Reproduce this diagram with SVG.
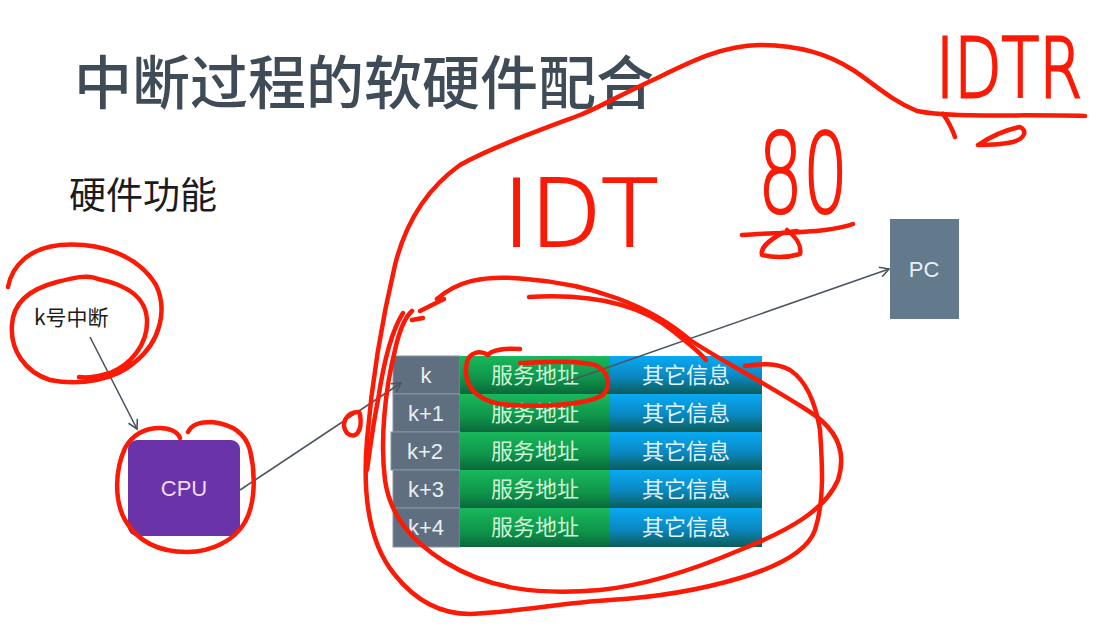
<svg xmlns="http://www.w3.org/2000/svg" width="1115" height="638" viewBox="0 0 1115 638">
<defs>
<linearGradient id="gGreen" x1="0" y1="0" x2="0" y2="1">
<stop offset="0" stop-color="#19b85c"/><stop offset="0.6" stop-color="#0f944a"/><stop offset="1" stop-color="#0a673b"/>
</linearGradient>
<linearGradient id="gBlue" x1="0" y1="0" x2="0" y2="1">
<stop offset="0" stop-color="#08aaf5"/><stop offset="0.55" stop-color="#0a87bf"/><stop offset="1" stop-color="#0b5d57"/>
</linearGradient>
<marker id="arr" markerWidth="12" markerHeight="12" refX="10" refY="6" orient="auto" markerUnits="userSpaceOnUse">
<path d="M1,1 L10,6 L1,11" fill="none" stroke="#4b5560" stroke-width="1.6"/>
</marker>
<style>
.cjk{font-family:"Noto Sans CJK SC","Noto Sans",sans-serif}
.lat{font-family:"Liberation Sans","Noto Sans CJK SC",sans-serif}
.cell1{fill:#5f6f80;stroke:#8795a3;stroke-width:1}
.cell2{fill:url(#gGreen)}
.cell3{fill:url(#gBlue)}
.t1{font-family:"Liberation Sans",sans-serif;font-size:22px;fill:#e9eef3;text-anchor:middle}
.t2{font-family:"Noto Sans CJK SC",sans-serif;font-size:22px;fill:#cdf5d6;text-anchor:middle}
.t3{font-family:"Noto Sans CJK SC",sans-serif;font-size:22px;fill:#e2f5ff;text-anchor:middle}
.conn{fill:none;stroke:#4b5560;stroke-width:1.6;marker-end:url(#arr)}
.ink{fill:none;stroke:#fa1a06;stroke-width:4.5;stroke-linecap:round;stroke-linejoin:round}
.hand{font-family:"DejaVu Sans",sans-serif;font-weight:200;fill:#fa1a06;stroke:#fa1a06;stroke-width:2.2}
</style>
</defs>
<rect width="1115" height="638" fill="#ffffff"/>

<g id="title">
<text x="74" y="104" class="cjk" font-size="58" font-weight="500" fill="#3f4b57">中断过程的软硬件配合</text>
</g>
<g id="subtitle">
<text x="69" y="209" class="cjk" font-size="37" fill="#1c1c1c">硬件功能</text>
</g>

<g id="node-interrupt">
<text x="34" y="325" class="cjk" font-size="21" fill="#1c1c1c">k号中断</text>
</g>

<g id="node-cpu">
<rect x="128" y="440" width="112" height="96" rx="9" fill="#6a33a8"/>
<text x="184" y="496" class="lat" font-size="22" fill="#f3d8f6" text-anchor="middle">CPU</text>
</g>

<g id="node-table">
<rect x="393" y="356" width="67" height="38" class="cell1"/>
<rect x="393" y="394" width="67" height="38" class="cell1"/>
<rect x="391" y="432" width="69" height="38" class="cell1"/>
<rect x="393" y="470" width="67" height="38" class="cell1"/>
<rect x="393" y="508" width="67" height="39" class="cell1"/>
<rect x="460" y="356" width="150" height="38" class="cell2"/>
<rect x="460" y="394" width="150" height="38" class="cell2"/>
<rect x="460" y="432" width="150" height="38" class="cell2"/>
<rect x="460" y="470" width="150" height="38" class="cell2"/>
<rect x="460" y="508" width="150" height="39" class="cell2"/>
<rect x="610" y="356" width="152" height="38" class="cell3"/>
<rect x="610" y="394" width="152" height="38" class="cell3"/>
<rect x="610" y="432" width="152" height="38" class="cell3"/>
<rect x="610" y="470" width="152" height="38" class="cell3"/>
<rect x="610" y="508" width="152" height="39" class="cell3"/>
<text x="426" y="383" class="t1">k</text>
<text x="426" y="421" class="t1">k+1</text>
<text x="425" y="459" class="t1">k+2</text>
<text x="426" y="497" class="t1">k+3</text>
<text x="426" y="535" class="t1">k+4</text>
<text x="535" y="383" class="t2">服务地址</text>
<text x="535" y="421" class="t2">服务地址</text>
<text x="535" y="459" class="t2">服务地址</text>
<text x="535" y="497" class="t2">服务地址</text>
<text x="535" y="535" class="t2">服务地址</text>
<text x="686" y="383" class="t3">其它信息</text>
<text x="686" y="421" class="t3">其它信息</text>
<text x="686" y="459" class="t3">其它信息</text>
<text x="686" y="497" class="t3">其它信息</text>
<text x="686" y="535" class="t3">其它信息</text>
</g>

<g id="node-pc">
<rect x="890" y="219" width="69" height="100" fill="#627a8c"/>
<text x="924" y="277" class="lat" font-size="22" fill="#e9f0f5" text-anchor="middle">PC</text>
</g>

<g id="connectors">
<path class="conn" d="M90,337 L137,429"/>
<path class="conn" d="M240,490 L401,383"/>
<path class="conn" d="M566,382 L889,269"/>
</g>

<g id="annotations">
<path class="ink" d="M1085,116 C1020,114 950,118 917,111 C890,100 872,82 853,70 C830,55 800,45 760,45 C720,46 690,62 653,80 C620,95 600,107 580,115 C540,130 490,148 460,165 C425,190 405,225 395,265 C382,320 372,380 367,440 C362,500 370,545 395,575 C415,600 440,614 470,614 C520,612 560,603 610,600 C660,597 700,590 740,578 C780,566 808,550 815,530 C825,500 822,460 820,430 C815,400 805,380 790,370 C775,362 760,364 745,366"/>
<path class="ink" d="M943,114 C948,121 952,128 955,137"/>
<path class="ink" d="M978,145 C990,137 1005,130 1020,127 C1027,130 1026,138 1013,142 C1000,145 988,145 978,145"/>
<path class="ink" d="M437,299 C455,283 480,274 526,279 C590,284 650,305 690,340 C720,360 760,380 807,410 C840,430 846,455 838,480 C825,510 790,530 740,550 C700,567 650,585 600,590 C540,595 490,590 445,562 C410,540 390,515 385,480 C380,440 385,390 395,350 C399,332 404,318 412,311"/>
<path class="ink" d="M529,297 C580,294 635,300 673,331 C688,343 700,352 706,360"/>
<path class="ink" d="M444,299 L420,311 M423,318 L412,320"/>
<path class="ink" d="M403,313 C392,330 384,360 378,400 C372,430 370,450 367,470"/>
<path class="ink" d="M359,412 C346,412 340,424 347,433 C355,440 363,432 360,414"/>
<path class="ink" d="M8,287 C12,265 30,248 60,245 C100,242 138,255 156,285 C168,310 160,342 135,362 C115,380 80,386 50,380 C25,372 10,350 12,325 C13,302 30,289 57,282 C72,278 88,274 98,279 C122,284 146,294 147,320 C148,345 130,365 110,373 C98,377 87,378 79,377"/>
<path class="ink" d="M188,432 C192,424 200,422 212,422 C230,424 245,432 250,450 C256,475 255,505 245,522 C235,540 212,552 187,552 C160,552 138,542 125,520 C114,500 115,470 125,448 C133,434 145,428 160,428 C170,428 178,432 180,438"/>
<path class="ink" d="M520,349 C505,348 492,350 488,355 C480,350 470,352 467,362 C463,380 470,398 500,404 C540,408 585,405 603,395 C612,385 608,370 595,365 C575,360 545,362 520,363"/>
<path class="ink" d="M742,235 C770,233 800,233 825,230 C840,228 848,226 853,224"/>
<path class="ink" d="M797,231 L782,233 C770,240 760,247 762,255 C775,258 790,257 800,254 C802,245 795,236 787,230"/>
<text x="503" y="246" class="hand" font-size="92" textLength="155" lengthAdjust="spacingAndGlyphs">IDT</text>
<text x="758" y="212" class="hand" font-size="110" textLength="90" lengthAdjust="spacingAndGlyphs">80</text>
<text transform="translate(936,97) scale(1,1.25)" x="0" y="0" class="hand" font-size="66" textLength="146" lengthAdjust="spacingAndGlyphs">IDTR</text>
</g>
</svg>
